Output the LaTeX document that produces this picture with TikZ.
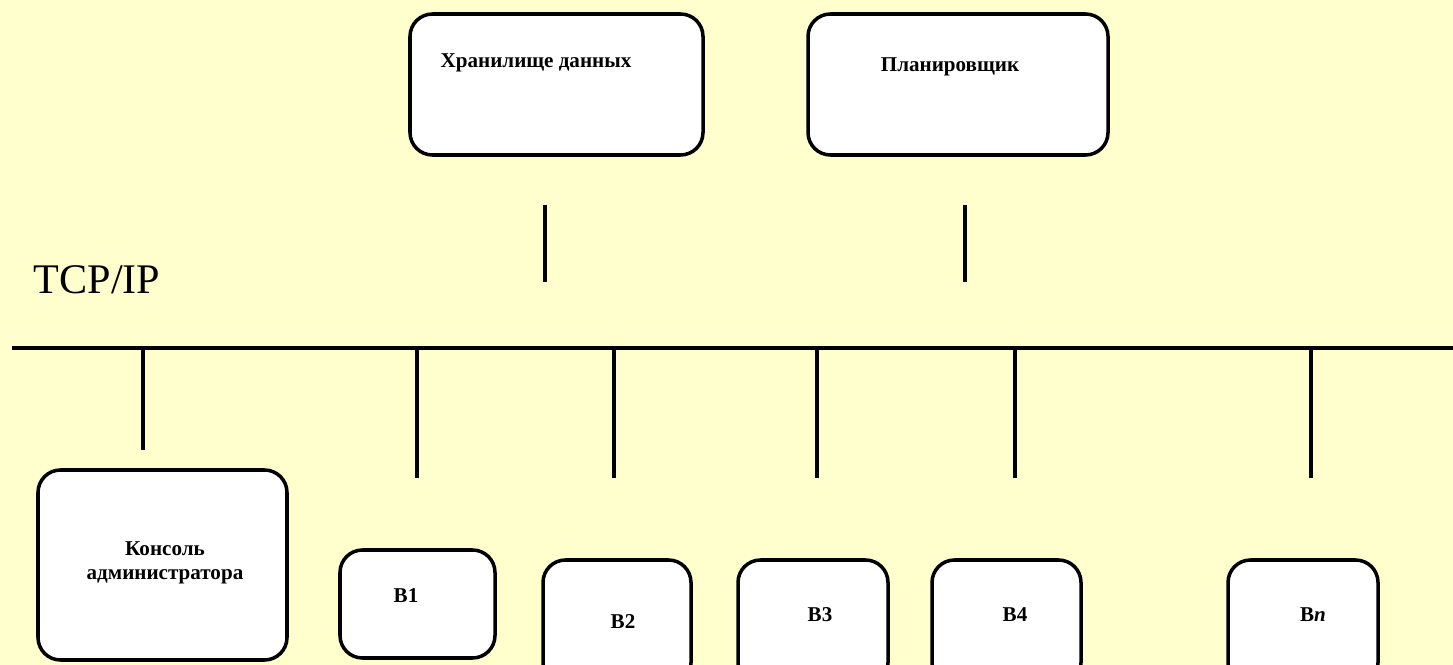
\documentclass[tikz,border=0pt]{standalone}
\usepackage{fontspec}
\setmainfont{Liberation Serif}
\usetikzlibrary{fit}
\definecolor{paper}{RGB}{255,255,206}
\tikzset{
  box/.style={draw, line width=2pt, rounded corners=0.45cm, fill=white, inner sep=0pt},
  lbl/.style={font=\fontsize{12}{14}\selectfont\bfseries, align=center},
  wire/.style={line width=1.9pt}
}

\begin{document}
\begin{tikzpicture}[x=0.02cm,y=-0.02cm]
            \fill[paper] (0,0) rectangle (1453,665);
            \useasboundingbox (0,0) rectangle (1453,665);
            \clip (0,0) rectangle (1453,665);
            % upper boxes
            \node[box, fit={(410,14) (703,155)}] (store) {};
            \node[box, fit={(808,14) (1108,155)}] (sched) {};
            \node[lbl] (storetxt) at (536,63) {Хранилище данных};
            \node[lbl] (schedtxt) at (950,67) {Планировщик};
            \coordinate (storeA) at (545,205);
            \coordinate (storeB) at (545,282);
            \coordinate (schedA) at (965,205);
            \coordinate (schedB) at (965,282);
            \draw[wire] (storeA) -- (storeB);
            \draw[wire] (schedA) -- (schedB);
            % the bus
            \node[font=\fontsize{24}{28}\selectfont] (tcpip) at (97,280) {TCP/IP};
            \coordinate (busW) at (12,348);
            \coordinate (busE) at (1460,348);
            \draw[wire] (busW) -- (busE);
            % lower boxes
            \node[box, fit={(38,470) (287,660)}] (head) {};
            \node[lbl] (headtxt) at (165,563) {Консоль\\администратора};
            \node[box, fit={(340,550) (495,658)}] (b1) {};
            \node[box, fit={(543,560) (691,685)}] (b2) {};
            \node[box, fit={(738,560) (888,685)}] (b3) {};
            \node[box, fit={(932,560) (1081,685)}] (b4) {};
            \node[box, fit={(1228,560) (1378,685)}] (bn) {};
            \node[lbl] at (406,596) {В1};
            \node[lbl] at (623,622) {В2};
            \node[lbl] at (820,615) {В3};
            \node[lbl] at (1015,615) {В4};
            \node[lbl] at (1313,615) {В\emph{n}};
            \foreach \n/\x/\y in {0/143/450, 1/417/478, 2/614/478, 3/817/478, 4/1015/478, 5/1311/478}
              {\coordinate (drop\n) at (\x,\y);
               \draw[wire] (drop\n |- busW) -- (drop\n);}
        \end{tikzpicture}
\end{document}
